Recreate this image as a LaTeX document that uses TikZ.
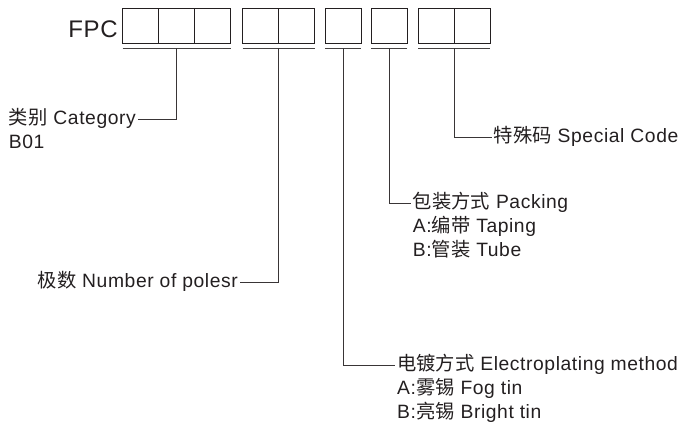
\documentclass[tikz,border=0pt]{standalone}
\usepackage{fontspec}
\setmainfont{Liberation Sans}[LetterSpace=3]
\newfontfamily\cjk{Noto Sans CJK SC}
\newcommand{\zh}[1]{{\cjk #1}}
\usetikzlibrary{positioning,matrix,calc}
\definecolor{ink}{HTML}{231F20}

\begin{document}
\begin{tikzpicture}[x=1pt,y=-1pt,
  slot/.style={draw=ink, line width=0.9pt, minimum width=36pt, minimum height=35pt, inner sep=0pt, outer sep=0pt},
  under/.style={draw=ink!85, line width=0.9pt},
  lead/.style={draw=ink!90, line width=0.8pt},
  codetext/.style={text=ink, font=\fontsize{19.3}{22}\selectfont, inner xsep=2pt, inner ysep=0pt, text height=17pt, text depth=6pt},
  mylabels/.style={matrix of nodes, inner sep=0pt, row sep=1pt, nodes={codetext, anchor=west}}
  ]
  \useasboundingbox (0,0) rectangle (696,426);

  \node[codetext, font=\fontsize{24}{28}\selectfont, anchor=east, text height=18pt, text depth=0pt, inner sep=1pt] (fpc) at (119,28) {FPC};

  % code boxes
  \node[slot] (c1) at (140.7,25.5) {};
  \node[slot, right=0pt of c1] (c2) {};
  \node[slot, right=0pt of c2] (c3) {};
  \node[slot] (c4) at (260.7,25.5) {};
  \node[slot, right=0pt of c4] (c5) {};
  \node[slot] (c6) at (343.3,25.5) {};
  \node[slot] (c7) at (389.3,25.5) {};
  \node[slot] (c8) at (436.3,25.5) {};
  \node[slot, right=0pt of c8] (c9) {};

  % underlines
  \foreach \g/\a/\b in {1/c1/c3,2/c4/c5,3/c6/c6,4/c7/c7,5/c8/c9}{
    \draw[under] ([yshift=-5pt]\a.south west) coordinate (l\g) -- ([yshift=-5pt]\b.south east) coordinate (r\g);
    \coordinate (m\g) at ($(l\g)!0.5!(r\g)$);
  }

  % labels
  \matrix[mylabels, anchor=north east] (cat) at (138,107.5) {
    \zh{类别} Category\\
    B01\\
  };
  \node[codetext, anchor=east] (poles) at (240,282) {\zh{极数} Number of polesr};
  \matrix[mylabels, anchor=north west] (plate) at (395,353.5) {
    \zh{电镀方式}\ Electroplating method\\
    A:\zh{雾锡} Fog tin\\
    B:\zh{亮锡} Bright tin\\
  };
  \matrix[mylabels, anchor=north west] (pack) at (410.7,191.5) {
    \zh{包装方式} Packing\\
    A:\zh{编带} Taping\\
    B:\zh{管装} Tube\\
  };
  \node[codetext, anchor=west] (special) at (491.7,137) {\zh{特殊码} Special Code};

  % leaders
  \draw[lead] (m1) |- (cat-1-1.east);
  \draw[lead] (m2) |- (poles.east);
  \draw[lead] (m3) |- (plate-1-1.west);
  \draw[lead] (m4) |- (pack-1-1.west);
  \draw[lead] (m5) |- (special.west);
\end{tikzpicture}
\end{document}
